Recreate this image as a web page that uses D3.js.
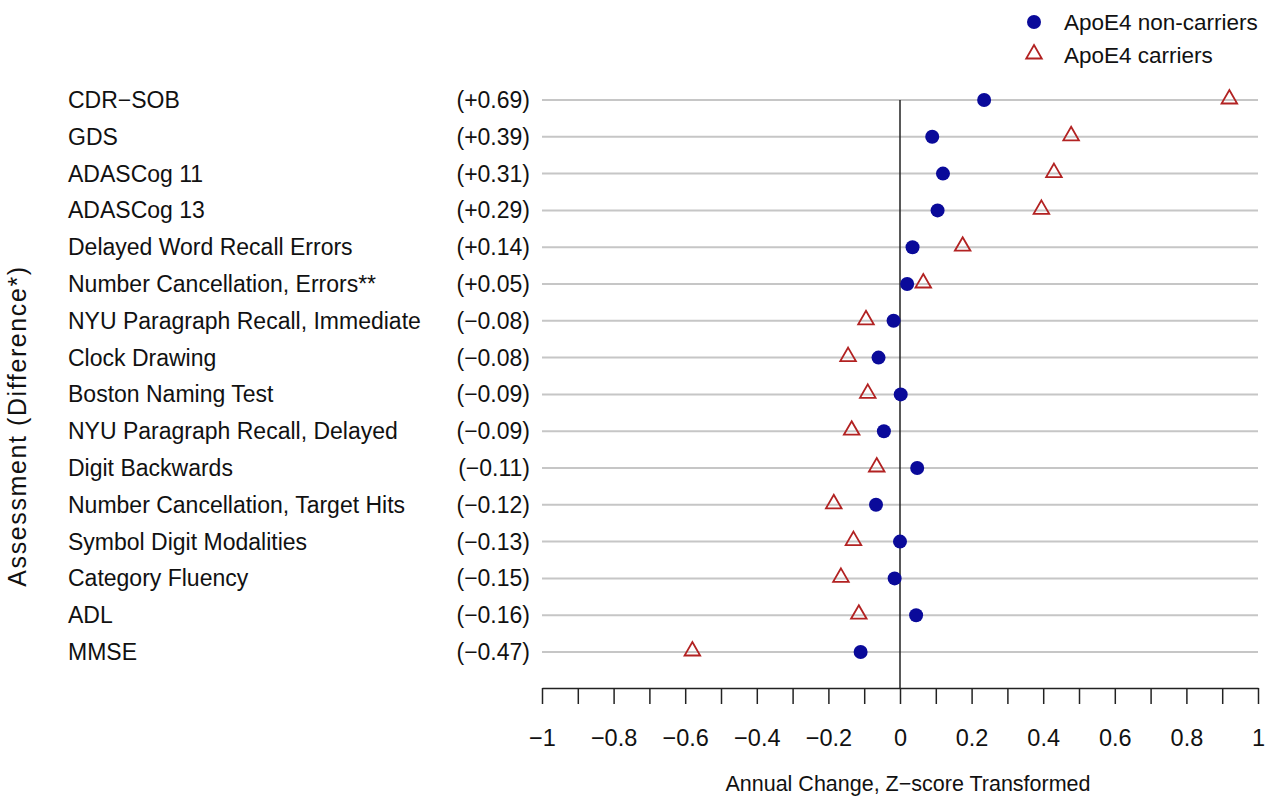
<!DOCTYPE html>
<html>
<head>
<meta charset="utf-8">
<script src="https://cdn.jsdelivr.net/npm/d3@7"></script>
<style>
  body { margin: 0; background: #fff; }
  text { font-family: "Liberation Sans", Arial, sans-serif; fill: #111; }
</style>
</head>
<body>
<script>
// assessments, top to bottom
var assessments = ["CDR\u2212SOB", "GDS", "ADASCog 11", "ADASCog 13", "Delayed Word Recall Errors",
  "Number Cancellation, Errors**", "NYU Paragraph Recall, Immediate", "Clock Drawing",
  "Boston Naming Test", "NYU Paragraph Recall, Delayed", "Digit Backwards",
  "Number Cancellation, Target Hits", "Symbol Digit Modalities", "Category Fluency", "ADL", "MMSE"];

var differences = ["(+0.69)", "(+0.39)", "(+0.31)", "(+0.29)", "(+0.14)", "(+0.05)",
  "(\u22120.08)", "(\u22120.08)", "(\u22120.09)", "(\u22120.09)", "(\u22120.11)", "(\u22120.12)",
  "(\u22120.13)", "(\u22120.15)", "(\u22120.16)", "(\u22120.47)"];

var nonCarriers = [0.235, 0.09, 0.12, 0.105, 0.035, 0.02, -0.018, -0.06, 0.002, -0.045,
  0.048, -0.067, 0.0, -0.015, 0.045, -0.11];
var carriers = [0.92, 0.478, 0.43, 0.395, 0.175, 0.065, -0.095, -0.145, -0.09, -0.135,
  -0.065, -0.185, -0.13, -0.165, -0.115, -0.58];

var tickValues = d3.range(-10, 11).map(function(d) { return d / 10; });

var width = 1267;
var height = 796;

var svg = d3.select("body").append("svg")
    .attr("width", width)
    .attr("height", height);

var x = d3.scaleLinear().domain([-1, 1]).range([542, 1258]);
var y = d3.scalePoint().domain(d3.range(assessments.length)).range([100, 652]);

// grid lines
svg.selectAll("line.grid")
    .data(assessments)
  .enter().append("line")
    .attr("class", "grid")
    .attr("x1", x(-1))
    .attr("x2", x(1))
    .attr("y1", function(d, i) { return y(i); })
    .attr("y2", function(d, i) { return y(i); })
    .attr("stroke", "#c6c6c6")
    .attr("stroke-width", 2);

// zero line
svg.append("line")
    .attr("x1", x(0)).attr("x2", x(0))
    .attr("y1", y(0)).attr("y2", 688)
    .attr("stroke", "#222")
    .attr("stroke-width", 1.5);

// x axis
var axis = svg.append("g")
    .attr("transform", "translate(0,688)")
    .call(d3.axisBottom(x).tickValues(tickValues).tickSize(16).tickSizeOuter(0)
      .tickFormat(function(d) {
        var r = Math.round(d * 10);
        if (r % 2 !== 0) return "";
        return d3.format("")(r / 10).replace("-", "\u2212");
      }));
axis.select(".domain").attr("stroke", "#222").attr("stroke-width", 1.5);
axis.selectAll(".tick line").attr("stroke", "#222").attr("stroke-width", 1.5);
axis.selectAll(".tick text")
    .attr("y", 41)
    .style("font-size", "23.5px")
    .style("font-family", "'Liberation Sans', Arial, sans-serif")
    .attr("fill", "#111");

svg.append("text")
    .attr("x", x(0) + 8)
    .attr("y", 791)
    .attr("text-anchor", "middle")
    .style("font-size", "21.5px")
    .text("Annual Change, Z\u2212score Transformed");

// y labels
svg.selectAll("text.label")
    .data(assessments)
  .enter().append("text")
    .attr("class", "label")
    .attr("x", 68)
    .attr("y", function(d, i) { return y(i); })
    .attr("dy", "0.35em")
    .style("font-size", "23px")
    .text(function(d) { return d; });

svg.selectAll("text.diff")
    .data(differences)
  .enter().append("text")
    .attr("class", "diff")
    .attr("x", 530)
    .attr("y", function(d, i) { return y(i); })
    .attr("dy", "0.35em")
    .attr("text-anchor", "end")
    .style("font-size", "23px")
    .text(function(d) { return d; });

svg.append("text")
    .attr("transform", "translate(26,426) rotate(-90)")
    .attr("text-anchor", "middle")
    .style("font-size", "25px")
    .style("letter-spacing", "1.6px")
    .text("Assessment (Difference*)");

// points
var tri = d3.symbol().type(d3.symbolTriangle).size(105);

svg.selectAll("path.carrier")
    .data(carriers)
  .enter().append("path")
    .attr("class", "carrier")
    .attr("d", tri)
    .attr("transform", function(d, i) { return "translate(" + x(d) + "," + (y(i) - 1) + ")"; })
    .attr("fill", "none")
    .attr("stroke", "#b22222")
    .attr("stroke-width", 1.8);

svg.selectAll("circle.noncarrier")
    .data(nonCarriers)
  .enter().append("circle")
    .attr("class", "noncarrier")
    .attr("cx", function(d) { return x(d); })
    .attr("cy", function(d, i) { return y(i); })
    .attr("r", 7)
    .attr("fill", "#0a0a9a");

// legend
var legend = svg.append("g");
legend.append("circle")
    .attr("cx", 1034).attr("cy", 22).attr("r", 7)
    .attr("fill", "#0a0a9a");
legend.append("path")
    .attr("d", tri)
    .attr("transform", "translate(1034,54)")
    .attr("fill", "none")
    .attr("stroke", "#b22222")
    .attr("stroke-width", 1.8);
legend.append("text")
    .attr("x", 1064).attr("y", 22).attr("dy", "0.35em")
    .style("font-size", "22.5px")
    .text("ApoE4 non-carriers");
legend.append("text")
    .attr("x", 1064).attr("y", 55).attr("dy", "0.35em")
    .style("font-size", "22.5px")
    .text("ApoE4 carriers");
</script>
</body>
</html>
